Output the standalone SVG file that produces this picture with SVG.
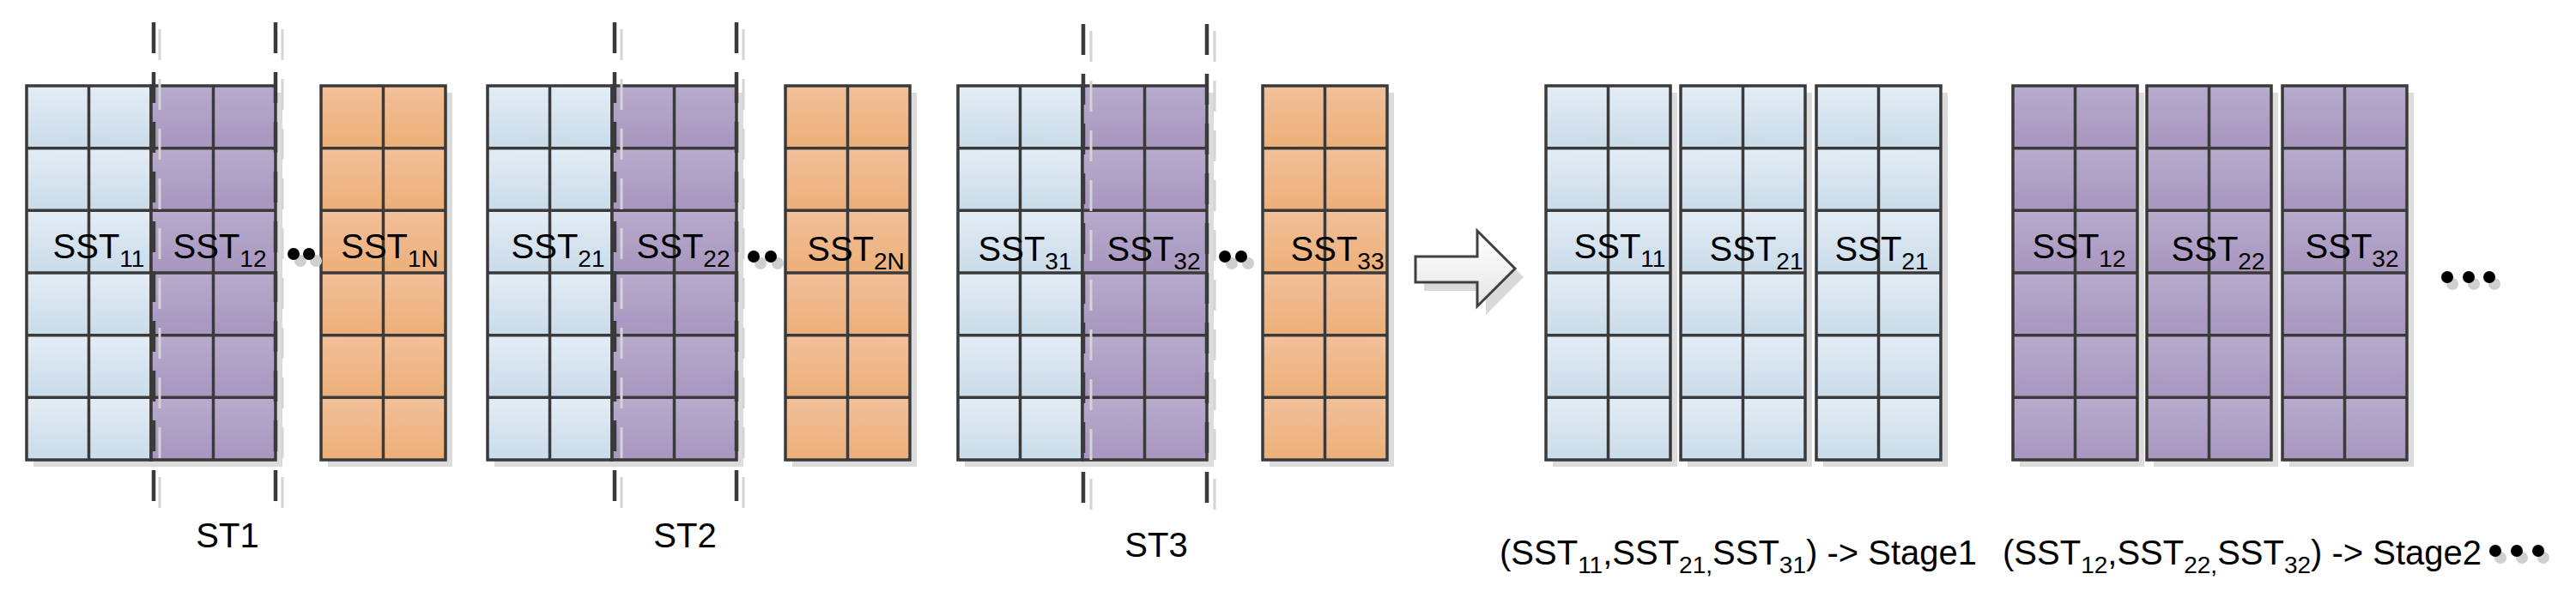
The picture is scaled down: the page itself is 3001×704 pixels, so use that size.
<svg xmlns="http://www.w3.org/2000/svg" xmlns:xlink="http://www.w3.org/1999/xlink" width="3001" height="704" viewBox="0 0 3001 704">
<style>
.t{font-family:"Liberation Sans Narrow","Liberation Sans",Arial,sans-serif;font-size:40px;fill:#000}
.s{font-size:28px}
.gl{fill:none;stroke:#3a3a3a;stroke-width:3.5}
.dash{stroke:#3a3a3a;stroke-width:4.5;stroke-dasharray:36 22}
.dsh{stroke:#d4d4d4;stroke-width:3;stroke-dasharray:36 22}
.dot{fill:#000}
.dots{fill:#cfcfcf}
</style>
<defs>
<linearGradient id="gb" x1="0" y1="0" x2="0" y2="1"><stop offset="0" stop-color="#e4edf5"/><stop offset="1" stop-color="#c9dbe9"/></linearGradient>
<linearGradient id="gp" x1="0" y1="0" x2="0" y2="1"><stop offset="0" stop-color="#b8abcd"/><stop offset="1" stop-color="#a796bf"/></linearGradient>
<linearGradient id="go" x1="0" y1="0" x2="0" y2="1"><stop offset="0" stop-color="#f2c09a"/><stop offset="1" stop-color="#edaf78"/></linearGradient>
<linearGradient id="ga" x1="0" y1="0" x2="0" y2="1"><stop offset="0" stop-color="#ffffff"/><stop offset="1" stop-color="#e6e6e6"/></linearGradient>
<pattern id="pb" patternUnits="objectBoundingBox" width="0.5" height="0.166667" patternContentUnits="objectBoundingBox"><rect width="0.5" height="0.166667" fill="url(#gb)"/></pattern>
<pattern id="pp" patternUnits="objectBoundingBox" width="0.5" height="0.166667" patternContentUnits="objectBoundingBox"><rect width="0.5" height="0.166667" fill="url(#gp)"/></pattern>
<pattern id="po" patternUnits="objectBoundingBox" width="0.5" height="0.166667" patternContentUnits="objectBoundingBox"><rect width="0.5" height="0.166667" fill="url(#go)"/></pattern>
<rect id="sh" x="8" y="8" width="145" height="436" fill="#dcdcdc"/>
<path id="grid" class="gl" d="M0,0h145v436h-145z M72.5,0v436 M0,72.67h145 M0,145.33h145 M0,218h145 M0,290.67h145 M0,363.33h145"/>
</defs>

<g id="shadows">
<use href="#sh" x="31" y="100"/><use href="#sh" x="176" y="100"/><use href="#sh" x="374" y="100"/>
<use href="#sh" x="568" y="100"/><use href="#sh" x="713" y="100"/><use href="#sh" x="915" y="100"/>
<use href="#sh" x="1116" y="100"/><use href="#sh" x="1261" y="100"/><use href="#sh" x="1471" y="100"/>
<use href="#sh" x="1801" y="100"/><use href="#sh" x="1958" y="100"/><use href="#sh" x="2116" y="100"/>
<use href="#sh" x="2345" y="100"/><use href="#sh" x="2501" y="100"/><use href="#sh" x="2659" y="100"/>
</g>

<g id="SST11"><rect x="31" y="100" width="145" height="436" fill="url(#pb)"/><use href="#grid" x="31" y="100"/><text class="t" x="115" y="301" text-anchor="middle">SST<tspan class="s" dy="10">11</tspan></text></g>
<g id="SST12"><rect x="176" y="100" width="145" height="436" fill="url(#pp)"/><use href="#grid" x="176" y="100"/><text class="t" x="256" y="301" text-anchor="middle">SST<tspan class="s" dy="10">12</tspan></text></g>
<g id="SST1N"><rect x="374" y="100" width="145" height="436" fill="url(#po)"/><use href="#grid" x="374" y="100"/><text class="t" x="454" y="301" text-anchor="middle">SST<tspan class="s" dy="10">1N</tspan></text></g>

<g id="SST21"><rect x="568" y="100" width="145" height="436" fill="url(#pb)"/><use href="#grid" x="568" y="100"/><text class="t" x="650" y="301" text-anchor="middle">SST<tspan class="s" dy="10">21</tspan></text></g>
<g id="SST22"><rect x="713" y="100" width="145" height="436" fill="url(#pp)"/><use href="#grid" x="713" y="100"/><text class="t" x="796" y="301" text-anchor="middle">SST<tspan class="s" dy="10">22</tspan></text></g>
<g id="SST2N"><rect x="915" y="100" width="145" height="436" fill="url(#po)"/><use href="#grid" x="915" y="100"/><text class="t" x="997" y="304" text-anchor="middle">SST<tspan class="s" dy="10">2N</tspan></text></g>

<g id="SST31"><rect x="1116" y="100" width="145" height="436" fill="url(#pb)"/><use href="#grid" x="1116" y="100"/><text class="t" x="1194" y="304" text-anchor="middle">SST<tspan class="s" dy="10">31</tspan></text></g>
<g id="SST32"><rect x="1261" y="100" width="145" height="436" fill="url(#pp)"/><use href="#grid" x="1261" y="100"/><text class="t" x="1344" y="304" text-anchor="middle">SST<tspan class="s" dy="10">32</tspan></text></g>
<g id="SST33"><rect x="1471" y="100" width="145" height="436" fill="url(#po)"/><use href="#grid" x="1471" y="100"/><text class="t" x="1558" y="304" text-anchor="middle">SST<tspan class="s" dy="10">33</tspan></text></g>

<g id="R_SST11"><rect x="1801" y="100" width="145" height="436" fill="url(#pb)"/><use href="#grid" x="1801" y="100"/><text class="t" x="1887" y="301" text-anchor="middle">SST<tspan class="s" dy="10">11</tspan></text></g>
<g id="R_SST21"><rect x="1958" y="100" width="145" height="436" fill="url(#pb)"/><use href="#grid" x="1958" y="100"/><text class="t" x="2046" y="304" text-anchor="middle">SST<tspan class="s" dy="10">21</tspan></text></g>
<g id="R_SST21b"><rect x="2116" y="100" width="145" height="436" fill="url(#pb)"/><use href="#grid" x="2116" y="100"/><text class="t" x="2192" y="304" text-anchor="middle">SST<tspan class="s" dy="10">21</tspan></text></g>

<g id="R_SST12"><rect x="2345" y="100" width="145" height="436" fill="url(#pp)"/><use href="#grid" x="2345" y="100"/><text class="t" x="2422" y="301" text-anchor="middle">SST<tspan class="s" dy="10">12</tspan></text></g>
<g id="R_SST22"><rect x="2501" y="100" width="145" height="436" fill="url(#pp)"/><use href="#grid" x="2501" y="100"/><text class="t" x="2584" y="304" text-anchor="middle">SST<tspan class="s" dy="10">22</tspan></text></g>
<g id="R_SST32"><rect x="2659" y="100" width="145" height="436" fill="url(#pp)"/><use href="#grid" x="2659" y="100"/><text class="t" x="2740" y="301" text-anchor="middle">SST<tspan class="s" dy="10">32</tspan></text></g>

<g id="connectors">
<g id="dividers">
<line class="dsh" x1="186" y1="34" x2="186" y2="606"/><line class="dsh" x1="329" y1="34" x2="329" y2="606"/>
<line class="dsh" x1="724" y1="34" x2="724" y2="606"/><line class="dsh" x1="866" y1="34" x2="866" y2="606"/>
<line class="dsh" x1="1271" y1="36" x2="1271" y2="608"/><line class="dsh" x1="1415" y1="36" x2="1415" y2="608"/>
<line class="dash" x1="179" y1="26" x2="179" y2="598"/><line class="dash" x1="321" y1="26" x2="321" y2="598"/>
<line class="dash" x1="716" y1="26" x2="716" y2="598"/><line class="dash" x1="858" y1="26" x2="858" y2="598"/>
<line class="dash" x1="1262" y1="28" x2="1262" y2="600"/><line class="dash" x1="1406" y1="28" x2="1406" y2="600"/>
</g>
<g id="arrow">
<polygon points="1659,309 1731,309 1731,279 1775,323 1731,367 1731,339 1659,339" fill="#d9d9d9"/>
<polygon points="1649,299 1721,299 1721,269 1765,313 1721,357 1721,329 1649,329" fill="url(#ga)" stroke="#404040" stroke-width="3"/>
</g>
</g>

<g id="ellipses">
<circle class="dots" cx="350" cy="304" r="7"/><circle class="dots" cx="368" cy="304" r="7"/>
<circle class="dot" cx="342" cy="296" r="7"/><circle class="dot" cx="360" cy="296" r="7"/>
<circle class="dots" cx="886" cy="307" r="7"/><circle class="dots" cx="906" cy="307" r="7"/>
<circle class="dot" cx="878" cy="299" r="7"/><circle class="dot" cx="898" cy="299" r="7"/>
<circle class="dots" cx="1435" cy="307" r="7"/><circle class="dots" cx="1454" cy="307" r="7"/>
<circle class="dot" cx="1427" cy="299" r="7"/><circle class="dot" cx="1446" cy="299" r="7"/>
<circle class="dots" cx="2857" cy="331" r="7"/><circle class="dots" cx="2882" cy="331" r="7"/><circle class="dots" cx="2906" cy="331" r="7"/>
<circle class="dot" cx="2851" cy="323" r="7"/><circle class="dot" cx="2876" cy="323" r="7"/><circle class="dot" cx="2900" cy="323" r="7"/>
<circle class="dots" cx="2913" cy="650" r="7"/><circle class="dots" cx="2938" cy="650" r="7"/><circle class="dots" cx="2963" cy="650" r="7"/>
<circle class="dot" cx="2907" cy="642" r="7"/><circle class="dot" cx="2932" cy="642" r="7"/><circle class="dot" cx="2957" cy="642" r="7"/>
</g>

<g id="labels">
<text class="t" x="265" y="638" text-anchor="middle">ST1</text>
<text class="t" x="798" y="638" text-anchor="middle">ST2</text>
<text class="t" x="1347" y="649" text-anchor="middle">ST3</text>
<text class="t" x="1747" y="658">(SST<tspan class="s" dy="10">11</tspan><tspan dy="-10">,SST</tspan><tspan class="s" dy="10">21,</tspan><tspan dy="-10">SST</tspan><tspan class="s" dy="10">31</tspan><tspan dy="-10">) -&gt; Stage1</tspan></text>
<text class="t" x="2333" y="658">(SST<tspan class="s" dy="10">12</tspan><tspan dy="-10">,SST</tspan><tspan class="s" dy="10">22,</tspan><tspan dy="-10">SST</tspan><tspan class="s" dy="10">32</tspan><tspan dy="-10">) -&gt; Stage2</tspan></text>
</g>
</svg>
